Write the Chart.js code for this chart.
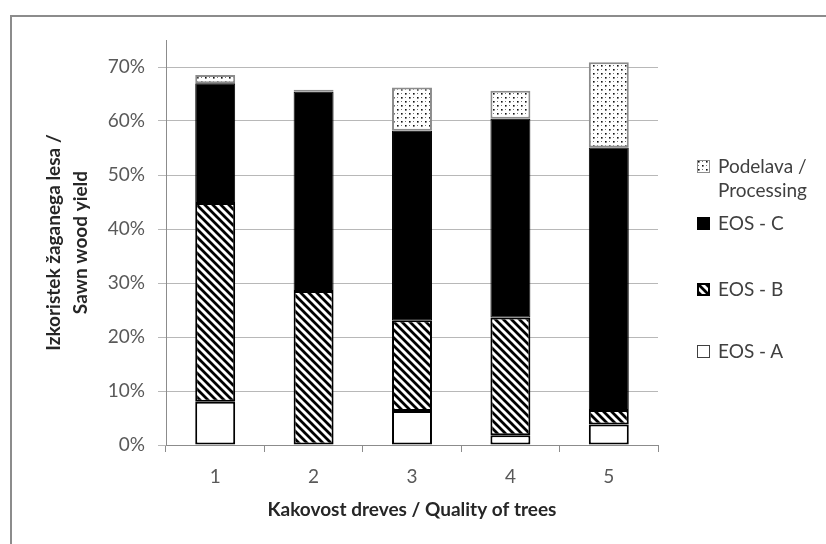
<!DOCTYPE html>
<html><head><meta charset="utf-8">
<script src="https://cdn.jsdelivr.net/npm/chart.js@4"></script>
<style>
html,body{margin:0;padding:0;background:#fff;overflow:hidden;width:826px;height:544px}
#frame{position:absolute;left:10px;top:15px;width:900px;height:600px;border:2px solid #8c8c8c;box-sizing:border-box}
#wrap{position:absolute;left:0;top:0;width:826px;height:544px}
.leg{position:absolute;left:697px;font-family:Lato,sans-serif;font-size:19px;color:#404040;line-height:24px;white-space:nowrap}
.leg canvas{position:absolute;left:0;top:6px}
.leg span{display:block;margin-left:21px}
</style></head>
<body>
<div id="frame"></div>
<div id="wrap"><canvas id="c" width="826" height="544"></canvas></div>
<div id="legend"></div>
<script>
const categories = ['1', '2', '3', '4', '5'];
const eosA = [8.0, 0.0, 6.3, 1.8, 3.8];
const eosB = [36.8, 28.5, 16.8, 21.8, 2.7];
const eosC = [22.2, 36.9, 35.1, 36.8, 48.6];
const processing = [1.5, 0.4, 8.0, 5.2, 15.8];
const yTicks = [0, 10, 20, 30, 40, 50, 60, 70];
const seriesNames = ['EOS - A', 'EOS - B', 'EOS - C', ['Podelava /', 'Processing']];

function stripePattern() {
  const t = document.createElement('canvas');
  t.width = 8; t.height = 8;
  const g = t.getContext('2d');
  g.fillStyle = '#fff'; g.fillRect(0, 0, 8, 8);
  g.strokeStyle = '#000'; g.lineWidth = 2.8;
  g.beginPath();
  g.moveTo(-2, -2); g.lineTo(10, 10);
  g.moveTo(-6, 2); g.lineTo(2, 10);
  g.moveTo(6, -2); g.lineTo(14, 6);
  g.stroke();
  return g.createPattern(t, 'repeat');
}
function dotPattern() {
  const t = document.createElement('canvas');
  t.width = 8; t.height = 8;
  const g = t.getContext('2d');
  g.fillStyle = '#fff'; g.fillRect(0, 0, 8, 8);
  g.fillStyle = '#111';
  g.fillRect(1, 1, 1.6, 1.6);
  g.fillRect(5, 5, 1.6, 1.6);
  g.fillStyle = '#777';
  g.fillRect(5, 1, 1, 1);
  g.fillRect(1, 5, 1, 1);
  return g.createPattern(t, 'repeat');
}
const stripes = stripePattern();
const dots = dotPattern();

const styles = [
  {bg: '#ffffff', border: '#000000', bw: 2},
  {bg: stripes, border: '#000000', bw: 2},
  {bg: '#000000', border: '#000000', bw: 1},
  {bg: dots, border: '#8c8c8c', bw: 2}
];
const seriesData = [eosA, eosB, eosC, processing];

const datasets = seriesData.map((d, i) => ({
  label: Array.isArray(seriesNames[i]) ? seriesNames[i].join(' ') : seriesNames[i],
  data: d,
  backgroundColor: styles[i].bg,
  borderColor: styles[i].border,
  borderWidth: styles[i].bw,
  borderSkipped: false,
  barPercentage: 0.406,
  categoryPercentage: 1.0,
  stack: 's'
}));

new Chart(document.getElementById('c'), {
  type: 'bar',
  data: {labels: categories, datasets},
  options: {
    responsive: false,
    animation: false,
    devicePixelRatio: 1,
    layout: {padding: {left: 20, right: 168, top: 40, bottom: 19}},
    plugins: {legend: {display: false}, tooltip: {enabled: false}},
    scales: {
      x: {
        stacked: true,
        afterFit: s => { s.height = 80; },
        border: {color: '#8c8c8c', width: 1},
        grid: {offset: true, drawOnChartArea: false, drawTicks: true, tickLength: 7, color: '#8c8c8c'},
        ticks: {color: '#595959', padding: 13, font: {family: 'Lato', size: 19}},
        title: {display: true, text: 'Kakovost dreves / Quality of trees', color: '#262626',
          padding: {top: 0, bottom: 4}, font: {family: 'Lato', size: 19, weight: 'bold', lineHeight: 1.2}}
      },
      y: {
        stacked: true,
        min: 0, max: 75,
        afterFit: s => { s.width = 146; },
        afterBuildTicks: s => { s.ticks = yTicks.map(v => ({value: v})); },
        border: {color: '#8c8c8c', width: 1},
        grid: {color: '#b8b8b8', tickLength: 8, drawTicks: true},
        ticks: {color: '#595959', padding: 13, font: {family: 'Lato', size: 19},
          callback: v => v + '%'},
        title: {display: true, text: ['Izkoristek žaganega lesa /', 'Sawn wood yield'], color: '#262626',
          padding: {top: 21, bottom: 0}, font: {family: 'Lato', size: 19, weight: 'bold', lineHeight: 1.4}}
      }
    }
  }
});

// HTML legend (reverse order, like the reference)
const legendTops = [339, 277, 211, 154];
const legend = document.getElementById('legend');
for (let i = seriesNames.length - 1; i >= 0; i--) {
  const item = document.createElement('div');
  item.className = 'leg';
  item.style.top = legendTops[i] + 'px';
  const sw = document.createElement('canvas');
  sw.width = 13; sw.height = 13;
  const g = sw.getContext('2d');
  g.fillStyle = styles[i].bg; g.fillRect(0, 0, 13, 13);
  g.strokeStyle = i === 0 ? '#404040' : styles[i].border;
  g.lineWidth = i === 1 ? 2 : 1;
  g.strokeRect(i === 1 ? 1 : 0.5, i === 1 ? 1 : 0.5, i === 1 ? 11 : 12, i === 1 ? 11 : 12);
  item.appendChild(sw);
  const lines = Array.isArray(seriesNames[i]) ? seriesNames[i] : [seriesNames[i]];
  lines.forEach(l => { const s = document.createElement('span'); s.textContent = l; item.appendChild(s); });
  legend.appendChild(item);
}
</script>
</body></html>
